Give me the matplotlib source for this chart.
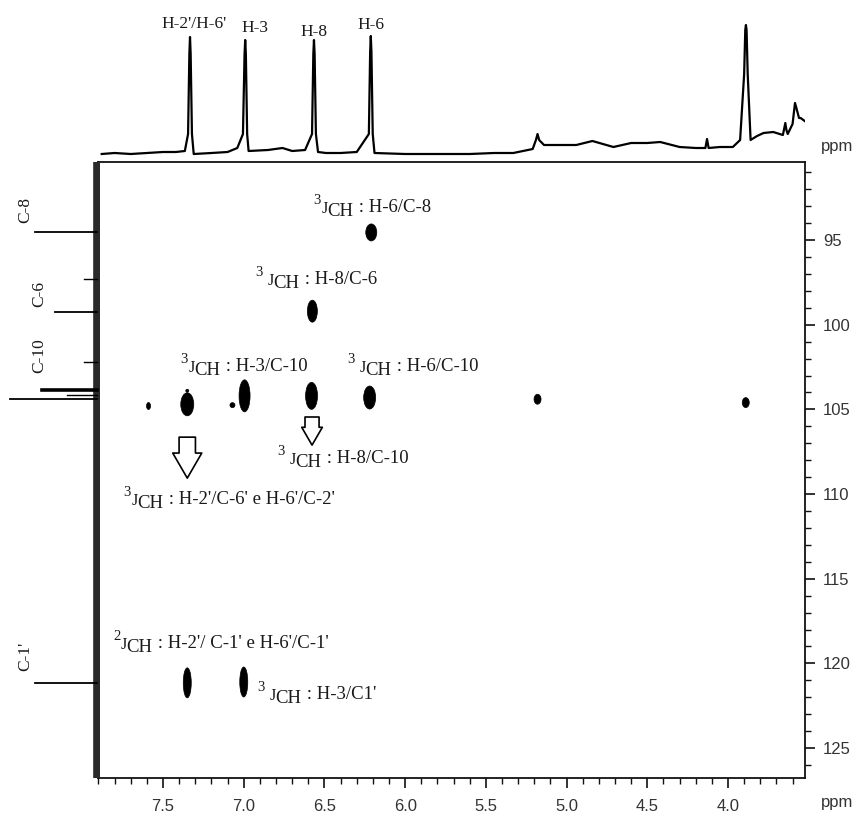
import matplotlib
matplotlib.use("Agg")
import matplotlib.pyplot as plt
from matplotlib.patches import Ellipse
from matplotlib.ticker import MultipleLocator

# ---------------- data ----------------
# 1H projection (ppm, height above baseline in px-units)
h1_ppm = [7.88, 7.80, 7.70, 7.60, 7.50, 7.42, 7.365, 7.345, 7.337, 7.333, 7.329, 7.321, 7.31,
          7.20, 7.10, 7.04, 7.005, 6.995, 6.991, 6.987, 6.979, 6.97, 6.85, 6.76, 6.70, 6.62,
          6.577, 6.569, 6.565, 6.561, 6.553, 6.54, 6.49, 6.40, 6.30, 6.225, 6.217, 6.213,
          6.209, 6.201, 6.19, 6.00, 5.80, 5.60, 5.45, 5.33, 5.21, 5.19, 5.18, 5.17, 5.14,
          5.05, 4.94, 4.84, 4.71, 4.60, 4.50, 4.42, 4.30, 4.20, 4.14, 4.13, 4.12, 4.05,
          3.97, 3.925, 3.90, 3.893, 3.889, 3.885, 3.878, 3.86, 3.82, 3.78, 3.72, 3.66,
          3.645, 3.638, 3.63, 3.60, 3.585, 3.578, 3.56, 3.55, 3.525]
h1_int = [0, 1, 0, 1, 2, 2, 3, 20, 100, 117, 100, 20, 0,
          1, 2, 6, 20, 100, 114, 100, 20, 3, 4, 6, 3, 4,
          20, 100, 114, 100, 20, 2, 1, 1, 2, 20, 102, 118,
          102, 20, 1, 0, 0, 0, 1, 1, 5, 14, 20, 14, 9,
          9, 9, 13, 7, 11, 11, 12, 7, 6, 6, 15, 6, 7,
          7, 14, 80, 124, 129, 124, 80, 14, 18, 21, 22, 19,
          31, 24, 20, 30, 51, 47, 36, 36, 33]

# 13C projection (ppm, peak length in px-units)
c13_ppm = [94.55, 97.3, 99.25, 102.2, 103.85, 104.15, 104.4, 121.15]
c13_int = [62, 13, 42, 13, 55, 30, 87, 62]
c13_lw = [1.3, 1.0, 1.3, 1.0, 2.6, 1.0, 1.3, 1.3]
c13_labels = ["C-8", "C-6", "C-10", "C-1'"]
c13_label_ppm = [93.2, 98.2, 101.8, 119.6]

# HMBC cross peaks (1H ppm, 13C ppm)
cross_h = [6.21, 6.575, 7.59, 7.35, 7.35, 7.07, 6.995, 6.58, 6.22, 5.18, 3.89, 7.35, 7.00]
cross_c = [94.55, 99.2, 104.8, 104.7, 103.9, 104.75, 104.2, 104.2, 104.3, 104.4, 104.6, 121.15, 121.1]
cross_w_px = [11, 10, 4, 13, 3, 5, 11, 12, 12, 7, 7, 8, 8]
cross_h_px = [17, 22, 7, 23, 3, 5, 32, 27, 23, 10, 10, 30, 30]

# 1H assignments on top spectrum
h1_labels = ["H-2'/H-6'", "H-3", "H-8", "H-6"]
h1_label_ppm = [7.31, 6.93, 6.565, 6.21]
h1_label_int = [130, 126, 122, 129]

# HMBC annotations
ann_order = ["3", "3", "3", "3", "3", "3", "2", "3"]
ann_rest = [": H-6/C-8", ": H-8/C-6", ": H-3/C-10", ": H-6/C-10", ": H-8/C-10",
            ": H-2'/C-6' e H-6'/C-2'", ": H-2'/ C-1' e H-6'/C-1'", ": H-3/C1'"]
ann_h = [6.571, 6.930, 7.395, 6.360, 6.794, 7.748, 7.810, 6.918]
ann_c = [93.58, 97.84, 102.97, 102.97, 108.41, 110.83, 119.34, 122.35]
ann_gap = [1, 5, 1, 5, 5, 1, 0, 5]

# hollow arrows (1H ppm, start 13C, end 13C)
arr_h = [7.35, 6.577]
arr_c0 = [106.64, 105.45]
arr_c1 = [109.06, 107.11]

# ---------------- layout ----------------
W, H = 859, 815
fig = plt.figure(figsize=(W / 100, H / 100), dpi=100)
fig.patch.set_facecolor("white")

def fx(x):
    return x / W

def fy(y):
    return 1 - y / H

XL = (7.903, 3.523)
YL = (126.77, 90.39)
px_per_h = 707 / (XL[0] - XL[1])
px_per_c = 616 / (YL[0] - YL[1])

ax = fig.add_axes([fx(98), fy(778), 707 / W, 616 / H])
ax.set_xlim(*XL)
ax.set_ylim(*YL)
for s in ["top", "right", "bottom", "left"]:
    ax.spines[s].set_linewidth(1.3)
    ax.spines[s].set_color("#111111")
ax.yaxis.tick_right()
ax.xaxis.set_major_locator(MultipleLocator(0.5))
ax.xaxis.set_minor_locator(MultipleLocator(0.1))
ax.yaxis.set_major_locator(MultipleLocator(5))
ax.yaxis.set_minor_locator(MultipleLocator(1))
ax.tick_params(axis="both", which="major", direction="out", length=7, width=1.2,
               colors="#111111", labelcolor="#333333", labelsize=12)
ax.tick_params(axis="both", which="minor", direction="out", length=4, width=1.0, colors="#111111")
ax.tick_params(axis="x", which="major", pad=8)
ax.tick_params(axis="y", which="major", pad=6)
ax.xaxis.set_major_formatter(matplotlib.ticker.FormatStrFormatter("%.1f"))
for lab in ax.get_xticklabels() + ax.get_yticklabels():
    lab.set_family("Liberation Sans")

# cross peaks
for h, c, w, hh in zip(cross_h, cross_c, cross_w_px, cross_h_px):
    ax.add_patch(Ellipse((h, c), w / px_per_h, hh / px_per_c, facecolor="black",
                         edgecolor="black", lw=0.5))

# annotations
renderer = fig.canvas.get_renderer()
SERIF = "Liberation Serif"

def jlabel(h, c, order, rest, gap):
    pieces = [(order, 10.5, 12), ("J", 11.5, 3), ("CH", 13.5, 0), (" " + rest, 13.5, 4)]
    x = 0.0
    for i, (s, size, dy) in enumerate(pieces):
        t = ax.annotate(s, xy=(h, c), xycoords="data", xytext=(x, dy),
                        textcoords="offset pixels", fontsize=size, family=SERIF,
                        ha="left", va="baseline", color="#1a1a1a")
        w = t.get_window_extent(renderer).width
        x += w + (gap if i == 0 else 0)

for h, c, o, r, g in zip(ann_h, ann_c, ann_order, ann_rest, ann_gap):
    jlabel(h, c, o, r, g)

# arrows
arrow_specs = [(0.62, 1.1, 0.95, 19.0), (0.75, 1.1, 0.95, 13.5)]
for h, c0, c1, (tw, hw, hl, ms) in zip(arr_h, arr_c0, arr_c1, arrow_specs):
    ax.annotate("", xy=(h, c1), xytext=(h, c0), xycoords="data",
                arrowprops=dict(arrowstyle=f"simple,head_length={hl},head_width={hw},tail_width={tw}",
                                fc="white", ec="black", lw=1.2, shrinkA=0, shrinkB=0,
                                mutation_scale=ms))

# 1H projection
axH = fig.add_axes([fx(98), fy(158), 707 / W, 143 / H])
axH.set_xlim(*XL)
axH.set_ylim(-4, 139)
axH.axis("off")
axH.plot(h1_ppm, h1_int, color="black", lw=1.6, solid_joinstyle="round")
for lab, p, v in zip(h1_labels, h1_label_ppm, h1_label_int):
    axH.text(p, v, lab, ha="center", va="center", fontsize=12.5, family=SERIF, color="#1a1a1a")

# 13C projection
axC = fig.add_axes([0, fy(778), 100 / W, 616 / H])
axC.set_xlim(97, -3)
axC.set_ylim(*YL)
axC.axis("off")
axC.patch.set_alpha(0)
axC.set_zorder(5)
axC.plot([0, 0], [YL[1] + 0.1, YL[0] - 0.1], color="#2a2a2a", lw=5.5)
for p, v, lw in zip(c13_ppm, c13_int, c13_lw):
    axC.plot([0, v], [p, p], color="black", lw=lw)
label_x = [72, 58, 58, 72]
for lab, p, lx in zip(c13_labels, c13_label_ppm, label_x):
    axC.text(lx, p, lab, rotation=90, ha="center", va="center", fontsize=12.5,
             family=SERIF, color="#1a1a1a")

# ppm labels
fig.text(fx(837), fy(147), "ppm", ha="center", va="center", fontsize=12,
         family="Liberation Sans", color="#333333")
fig.text(fx(837), fy(803), "ppm", ha="center", va="center", fontsize=12,
         family="Liberation Sans", color="#333333")

fig.savefig("out.png", dpi=100, facecolor="white")
